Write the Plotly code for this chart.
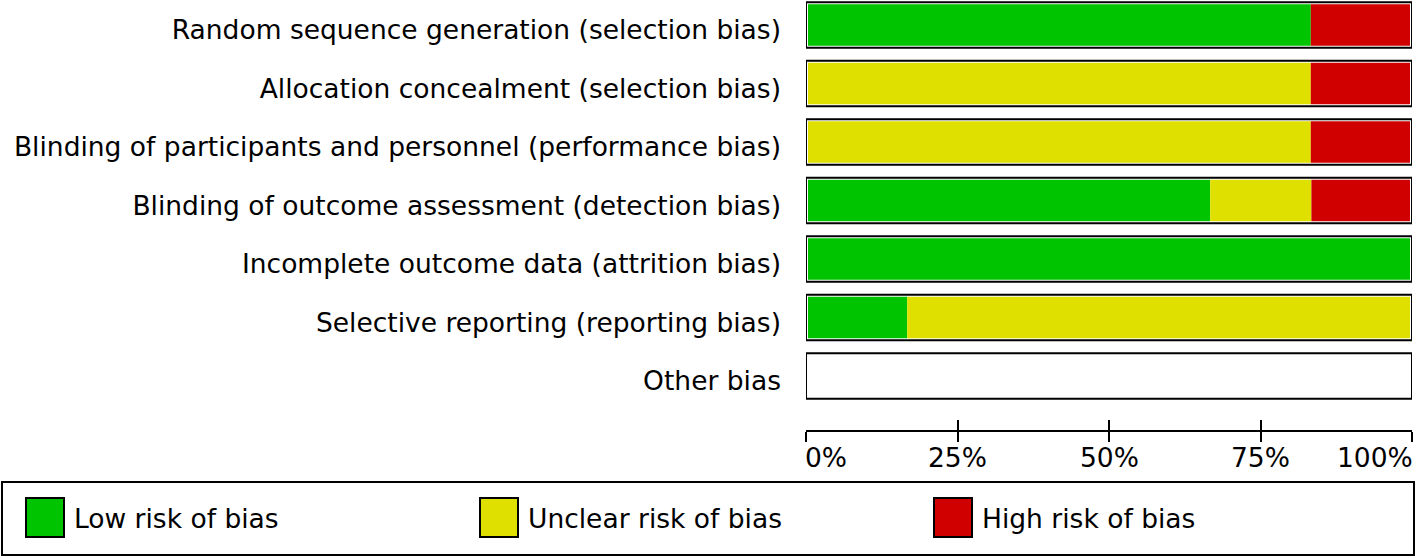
import plotly.graph_objects as go

# ---- data ----
domains = [
    "Random sequence generation (selection bias)",
    "Allocation concealment (selection bias)",
    "Blinding of participants and personnel (performance bias)",
    "Blinding of outcome assessment (detection bias)",
    "Incomplete outcome data (attrition bias)",
    "Selective reporting (reporting bias)",
    "Other bias",
]
low_risk = [83.3, 0, 0, 66.7, 100, 16.7, 0]
unclear_risk = [0, 83.3, 83.3, 16.7, 0, 83.3, 0]
high_risk = [16.7, 16.7, 16.7, 16.7, 0, 0, 0]
series_names = ["Low risk of bias", "Unclear risk of bias", "High risk of bias"]
series_colors = ["#00C400", "#DFE000", "#D00000"]
tick_values = [0, 25, 50, 75, 100]
tick_labels = ["0%", "25%", "50%", "75%", "100%"]

W, H = 1418, 558
PLOT_LEFT, PLOT_RIGHT, PLOT_TOP, PLOT_BOTTOM = 806, 1412, 0, 430
L = PLOT_LEFT
R = W - PLOT_RIGHT
T = PLOT_TOP
B = H - PLOT_BOTTOM
PW, PH = W - L - R, H - T - B
FONT = "DejaVu Sans"
FS = 26.5

def px_x(p):
    return (p - PLOT_LEFT) / PW

def px_y(p):
    return (PLOT_BOTTOM - p) / PH

# y range: first bar centre at y=25, pitch 58.5 px
c0, pitch = 25, 58.5
y_top = (PLOT_TOP - c0) / pitch
y_bot = (PLOT_BOTTOM - c0) / pitch

fig = go.Figure()
BW = 0.78
series = [low_risk, unclear_risk, high_risk]
bases = [0.0] * len(domains)
for name, vals, col in zip(series_names, series, series_colors):
    fig.add_trace(go.Bar(
        y=domains, x=vals, base=bases[:], orientation="h", width=BW,
        marker=dict(color=col, line=dict(width=0)), name=name,
        showlegend=False, hoverinfo="skip"))
    bases = [b + v for b, v in zip(bases, vals)]

# outline boxes (white inner rim + black frame)
for lw, lc in [(4, "white"), (2, "black")]:
    fig.add_trace(go.Bar(
        y=domains, x=[100] * len(domains), base=[0] * len(domains),
        orientation="h", width=BW,
        marker=dict(color="rgba(0,0,0,0)", line=dict(width=lw, color=lc)),
        showlegend=False, hoverinfo="skip"))

# invisible trace for secondary (inside ticks) axis
fig.add_trace(go.Scatter(x=[0, 100], y=[domains[0], domains[0]], xaxis="x2",
                         mode="markers", marker=dict(opacity=0),
                         showlegend=False, hoverinfo="skip"))

fig.update_layout(
    width=W, height=H,
    margin=dict(l=L, r=R, t=T, b=B, autoexpand=False),
    barmode="overlay",
    plot_bgcolor="white", paper_bgcolor="white",
    font=dict(family=FONT, size=FS, color="black"),
    xaxis=dict(range=[0, 100], showgrid=False, zeroline=False,
               showline=True, linecolor="black", linewidth=2,
               ticks="outside", ticklen=10, tickwidth=2, tickcolor="black",
               tickvals=tick_values, showticklabels=False, fixedrange=True),
    xaxis2=dict(range=[0, 100], overlaying="x", anchor="y", side="bottom",
                showgrid=False, zeroline=False, showline=False,
                ticks="inside", ticklen=10, tickwidth=2, tickcolor="black",
                tickvals=tick_values, showticklabels=False),
    yaxis=dict(categoryorder="array", categoryarray=domains,
               range=[y_bot, y_top], showgrid=False, zeroline=False,
               showline=False, ticks="", ticklabelstandoff=24,
               ticklabelshift=-5,
               tickfont=dict(family=FONT, size=FS, color="black")),
    showlegend=False,
)

# x tick labels
for i, (tv, tl) in enumerate(zip(tick_values, tick_labels)):
    anchor = "left" if i == 0 else ("right" if i == len(tick_values) - 1 else "center")
    fig.add_annotation(x=tv, y=px_y(457), xref="x", yref="paper", text=tl,
                       showarrow=False, xanchor=anchor, yanchor="middle",
                       xshift=(-3 if anchor == "left" else (3 if anchor == "right" else 0)),
                       font=dict(family=FONT, size=FS, color="black"))

# legend box
fig.add_shape(type="rect", xref="paper", yref="paper",
              x0=px_x(2), x1=px_x(1414), y0=px_y(482), y1=px_y(555),
              line=dict(color="black", width=2), fillcolor="white")
for i, (name, col) in enumerate(zip(series_names, series_colors)):
    sx = 26 + i * 454
    fig.add_shape(type="rect", xref="paper", yref="paper",
                  x0=px_x(sx), x1=px_x(sx + 38), y0=px_y(498), y1=px_y(537),
                  line=dict(color="black", width=2), fillcolor=col)
    fig.add_annotation(x=px_x(sx + 46), y=px_y(518), xref="paper", yref="paper",
                       text=name, showarrow=False, xanchor="left", yanchor="middle",
                       font=dict(family=FONT, size=FS, color="black"))

fig.write_html("out.html", config={"displayModeBar": False},
               post_script="document.body.style.margin='0';"
                           "document.body.style.overflow='hidden';")
